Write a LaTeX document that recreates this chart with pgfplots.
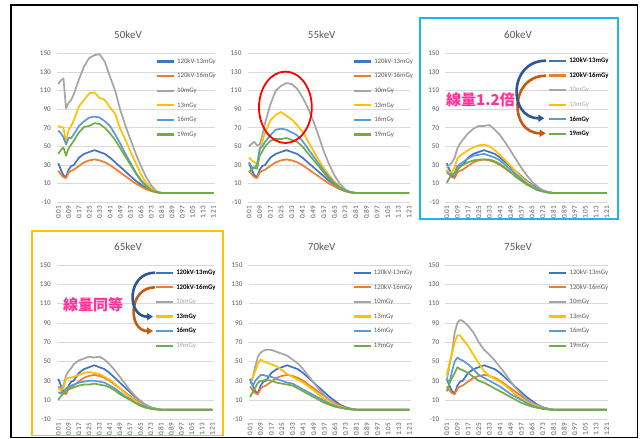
\documentclass[border=0pt]{standalone}
\usepackage{pgfplots}
\usepackage{pgfplotstable}
\pgfplotsset{compat=1.18}
\usepackage{fontspec}
\setmainfont{Carlito}
\newfontfamily\cjk{Noto Sans CJK JP}
\usetikzlibrary{arrows.meta}

\definecolor{c1}{HTML}{4472C4}
\definecolor{c2}{HTML}{ED7D31}
\definecolor{c3}{HTML}{A5A5A5}
\definecolor{c4}{HTML}{FFC000}
\definecolor{c5}{HTML}{5B9BD5}
\definecolor{c6}{HTML}{70AD47}
\definecolor{gridc}{HTML}{D9D9D9}
\definecolor{txt}{HTML}{595959}
\definecolor{lighttxt}{HTML}{A6A6A6}
\definecolor{pinkc}{HTML}{FF3399}
\definecolor{boxblue}{HTML}{1EB4F0}
\definecolor{boxyellow}{HTML}{FFC000}
\definecolor{arrblue}{HTML}{2F5597}
\definecolor{arrbrown}{HTML}{C55A11}

% 120kV reference series (same in every panel)
\pgfplotstableread{
x a b
0.01 32 24
0.03 25 20
0.05 19 17
0.07 17 16
0.09 25 22
0.11 29 24
0.13 30 25
0.17 38 29
0.21 42 33
0.25 44 35
0.29 46 36
0.33 44 35
0.37 42 33
0.41 38 30
0.45 33 26
0.49 28 22
0.53 23 18
0.57 18 14
0.61 13 10
0.65 9 7
0.69 5 4
0.73 2.5 2
0.77 1 0.5
0.81 0 0
1.21 0 0
}\refdata

% columns: g=10mGy, o=13mGy, l=16mGy, n=19mGy
\pgfplotstableread{
x g o l n
0.01 117 72 67 42
0.03 121 71 64 46
0.05 123 70 60 49
0.07 91 54 52 40
0.09 97 68 59 48
0.11 100 72 59 52
0.13 106 78 63 56
0.17 122 93 72 65
0.21 136 100 77 71
0.25 145 107 81 72
0.29 148 108 82 75
0.33 149 102 81 74
0.37 141 100 77 70
0.41 125 92 72 64
0.45 110 85 63 57
0.49 89 69 53 48
0.53 72 57 42 39
0.57 57 44 32 30
0.61 42 32 22 21
0.65 29 20 14 13
0.69 17 11 8 7
0.73 8 5 3 3
0.77 2 1.5 1 1
0.81 0 0 0 0
1.21 0 0 0 0
}\dA

\pgfplotstableread{
x g o l n
0.01 50 38 33 22
0.03 53 35 28 26
0.05 55 33 27 27
0.07 51 31 30 26
0.09 52 45 48 40
0.11 62 55 50 45
0.13 75 65 55 50
0.17 95 78 62 56
0.21 110 84 68 58
0.25 115 87 69 58
0.29 118 83 68 59
0.33 117 79 65 57
0.37 112 73 62 55
0.41 103 66 56 50
0.45 92 56 48 43
0.49 78 46 40 36
0.53 62 36 32 29
0.57 45 27 24 22
0.61 31 19 17 15
0.65 19 12 11 10
0.69 10 7 6 5
0.73 4 3 3 2
0.77 1 1 1 0.5
0.81 0 0 0 0
1.21 0 0 0 0
}\dB

\pgfplotstableread{
x g o l n
0.01 27 25 22 11
0.03 30 22 20 16
0.05 33 22 18 20
0.07 38 28 22 21
0.09 48 37 29 26
0.11 53 40 31 28
0.13 57 42 33 30
0.17 64 46 37 33
0.21 69 49 40 35
0.25 72 51 41 36
0.29 72 52 42 36
0.33 73 50 40 36
0.37 68 46 38 34
0.41 62 41 35 31
0.45 54 35 30 27
0.49 45 29 25 22
0.53 36 23 20 17
0.57 27 17 15 13
0.61 19 12 10 9
0.65 12 8 7 6
0.69 7 4 4 3
0.73 3 2 2 1.5
0.77 1 0.5 0.5 0.5
0.81 0 0 0 0
1.21 0 0 0 0
}\dC

\pgfplotstableread{
x g o l n
0.01 24 22 18 10
0.03 22 20 17 14
0.05 25 22 18 17
0.07 35 32 22 19
0.09 40 33 24 21
0.11 43 33 25 22
0.13 47 34 26 23
0.17 51 36 28 25
0.21 53 38 29 26
0.25 55 39 30 26
0.29 54 38 30 27
0.33 55 37 29 26
0.37 52 34 28 25
0.41 47 31 25 23
0.45 41 27 22 20
0.49 34 22 18 16
0.53 27 17 14 13
0.57 20 13 11 10
0.61 14 9 7 7
0.65 9 6 5 4
0.69 5 3 3 2
0.73 2 1.5 1 1
0.77 0.5 0.5 0.3 0.3
0.81 0 0 0 0
1.21 0 0 0 0
}\dD

\pgfplotstableread{
x g o l n
0.01 27 30 32 13
0.03 33 33 24 18
0.05 45 40 30 23
0.07 55 48 33 28
0.09 59 52 36 30
0.11 61 50 36 30
0.13 62 49 35 31
0.17 62 47 34 30
0.21 60 45 32 28
0.25 58 41 30 27
0.29 56 37 28 26
0.33 52 34 27 25
0.37 48 31 24 22
0.41 42 28 21 19
0.45 35 24 18 16
0.49 28 20 15 13
0.53 21 15 12 10
0.57 15 11 9 7
0.61 10 8 6 5
0.65 6 5 4 3
0.69 3 3 2 2
0.73 1.5 1 1 1
0.77 0.5 0.3 0.3 0.3
0.81 0 0 0 0
1.21 0 0 0 0
}\dE

\pgfplotstableread{
x g o l n
0.01 30 36 32 19
0.03 45 48 28 27
0.05 60 58 40 33
0.07 80 70 50 38
0.09 90 77 54 44
0.11 93 77 52 42
0.13 92 73 51 41
0.17 87 66 47 38
0.21 80 57 42 34
0.25 70 48 36 30
0.29 62 40 33 28
0.33 57 35 30 25
0.37 51 32 27 22
0.41 44 29 24 19
0.45 37 25 20 16
0.49 29 20 16 13
0.53 22 15 13 10
0.57 16 11 10 7
0.61 11 8 7 5
0.65 7 5 4 3
0.69 4 3 2 2
0.73 2 1 1 1
0.77 0.5 0.3 0.3 0.3
0.81 0 0 0 0
1.21 0 0 0 0
}\dF

\pgfplotsset{
  panel/.style={
    anchor=south west,
    scale only axis,
    xmin=0, xmax=1.22, ymin=-10, ymax=150,
    axis line style={draw=none},
    tick style={draw=none},
    major tick length=0pt,
    ytick={-10,10,30,50,70,90,110,130,150},
    yticklabels={-10,10,30,50,70,90,110,130,150},
    xtick={0.01,0.09,0.17,0.25,0.33,0.41,0.49,0.57,0.65,0.73,0.81,0.89,0.97,1.05,1.13,1.21},
    xticklabels={0.01,0.09,0.17,0.25,0.33,0.41,0.49,0.57,0.65,0.73,0.81,0.89,0.97,1.05,1.13,1.21},
    ymajorgrids,
    grid style={draw=gridc, line width=0.7pt},
    tick label style={font=\fontsize{7.2}{7.5}\selectfont, text=txt, inner sep=0pt},
    xticklabel style={rotate=90, anchor=east},
    yticklabel style={anchor=east},
    xticklabel shift=3.5pt,
    yticklabel shift=6pt,
    no markers,
    every axis plot/.append style={line width=1.7pt, line join=round},
    legend cell align=left,
    legend image code/.code={\draw[#1, line width=2.2pt] (0pt,0pt) -- (17pt,0pt);},
    legend style={draw=none, fill=none, inner sep=0pt, outer sep=0pt,
      anchor=north west, font=\fontsize{6.8}{7}\selectfont, text=txt,
      row sep=8.6pt, cells={anchor=west},
      nodes={inner sep=0pt, text height=4.8pt, text depth=1.2pt},
      /tikz/every odd column/.append style={column sep=2pt}},
  },
}

\newcommand{\plotsix}[1]{%
  \addplot[c1] table[x=x,y=a]{\refdata};
  \addplot[c2] table[x=x,y=b]{\refdata};
  \addplot[c3] table[x=x,y=g]{#1};
  \addplot[c4] table[x=x,y=o]{#1};
  \addplot[c5] table[x=x,y=l]{#1};
  \addplot[c6] table[x=x,y=n]{#1};
}

\begin{document}
\begin{tikzpicture}[x=1pt,y=1pt]
\useasboundingbox (0,0) rectangle (641,439);
\fill[white] (0,0) rectangle (641,439);

% 50keV
\begin{axis}[panel, at={(57pt,236.7pt)}, width=157.6pt, height=149pt,
  legend style={at={(axis cs:0.766,144.4)}}]
\plotsix{\dA}
\legend{120kV-13mGy,120kV-16mGy,10mGy,13mGy,16mGy,19mGy}
\end{axis}

% 55keV
\begin{axis}[panel, at={(247.7pt,236.7pt)}, width=162.7pt, height=149pt,
  legend style={at={(axis cs:0.790,144.4)}}]
\plotsix{\dB}
\legend{120kV-13mGy,120kV-16mGy,10mGy,13mGy,16mGy,19mGy}
\end{axis}

% 60keV
\begin{axis}[panel, at={(445.4pt,236.7pt)}, width=162.7pt, height=149pt,
  legend style={at={(axis cs:0.770,145)}}]
\plotsix{\dC}
\legend{{\color{black}\bfseries 120kV-13mGy},{\color{black}\bfseries 120kV-16mGy},{\color{lighttxt}10mGy},{\color{lighttxt}13mGy},{\color{black}\bfseries 16mGy},{\color{black}\bfseries 19mGy}}
\end{axis}

% 65keV
\begin{axis}[panel, at={(57pt,19.7pt)}, width=156.6pt, height=154.3pt,
  legend style={at={(axis cs:0.764,145.1)}}]
\plotsix{\dD}
\legend{{\color{black}\bfseries 120kV-13mGy},{\color{black}\bfseries 120kV-16mGy},{\color{lighttxt}10mGy},{\color{black}\bfseries 13mGy},{\color{black}\bfseries 16mGy},{\color{lighttxt}19mGy}}
\end{axis}

% 70keV
\begin{axis}[panel, at={(248.7pt,19.7pt)}, width=162pt, height=154.3pt,
  legend style={at={(axis cs:0.783,145.1)}}]
\plotsix{\dE}
\legend{120kV-13mGy,120kV-16mGy,10mGy,13mGy,16mGy,19mGy}
\end{axis}

% 75keV
\begin{axis}[panel, at={(445.4pt,19.7pt)}, width=162.7pt, height=154.3pt,
  legend style={at={(axis cs:0.772,145.1)}}]
\plotsix{\dF}
\legend{120kV-13mGy,120kV-16mGy,10mGy,13mGy,16mGy,19mGy}
\end{axis}

% titles
\begin{scope}[every node/.style={font=\fontsize{11}{13}\selectfont, text=txt}]
\node at (128,404) {50keV};
\node at (321.7,404) {55keV};
\node at (518,404) {60keV};
\node at (128,192) {65keV};
\node at (321.7,192) {70keV};
\node at (518,192) {75keV};
\end{scope}

% frames
\draw[black, line width=1.6pt] (11,434) rectangle (637.5,1.4);
\draw[boxblue, line width=1.8pt] (420,420.7) rectangle (617.7,220);
\draw[boxyellow, line width=1.8pt] (32.3,208) rectangle (223.3,3.5);
\draw[red, line width=1.8pt] (285.4,331.7) ellipse [x radius=26.4, y radius=35.7];

% annotations
\node[text=pinkc, font=\cjk\bfseries\fontsize{15}{15}\selectfont] at (480.5,339.7) {線量1.2倍};
\node[text=pinkc, font=\cjk\bfseries\fontsize{15}{15}\selectfont] at (93.2,134) {線量同等};

% curved arrows (60keV)
\draw[arrbrown, line width=2.6pt, -{Triangle[length=6pt,width=7pt]}] (546,363.3) .. controls (509,363.3) and (509,305.7) .. (545.7,305.7);
\draw[arrblue, line width=2.6pt, -{Triangle[length=6pt,width=7pt]}] (546,378.3) .. controls (508,378.3) and (508,320.7) .. (544.3,320.7);
% curved arrows (65keV)
\draw[arrbrown, line width=2.6pt, -{Triangle[length=6pt,width=7pt]}] (155,151.7) .. controls (127.9,151.7) and (127.9,108) .. (153,108);
\draw[arrblue, line width=2.6pt, -{Triangle[length=6pt,width=7pt]}] (155,166.3) .. controls (126.5,166.3) and (126.5,122.3) .. (153,122.3);
\end{tikzpicture}
\end{document}
